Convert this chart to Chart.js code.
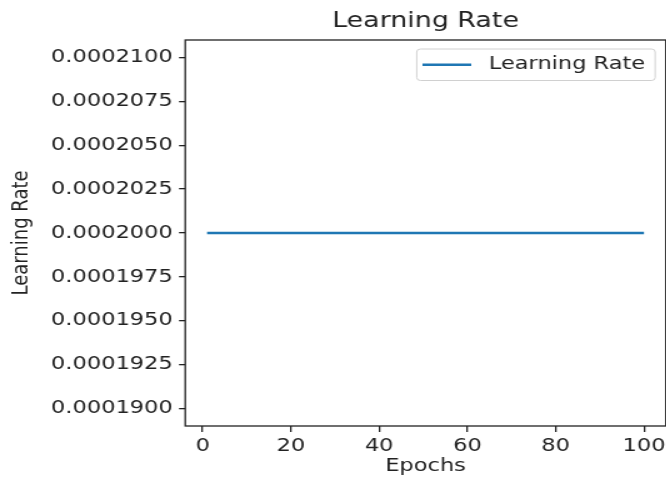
<!DOCTYPE html>
<html>
<head>
<meta charset="utf-8">
<script src="https://cdn.jsdelivr.net/npm/chart.js@4.4.1/dist/chart.umd.min.js"></script>
<style>
  html, body { margin: 0; padding: 0; background: #fff; overflow: hidden; width: 666px; height: 482px; }
  #wrap { width: 536px; height: 482px; transform: scaleX(1.25); transform-origin: 0 0; }
  canvas { display: block; }
</style>
</head>
<body>
<div id="wrap"><canvas id="c" width="536" height="482"></canvas></div>
<script>
const chartTitle = "Learning Rate";
const seriesLabel = "Learning Rate";
const xAxisLabel = "Epochs";
const yAxisLabel = "Learning Rate";
const epochs = [1,2,3,4,5,6,7,8,9,10,11,12,13,14,15,16,17,18,19,20,
  21,22,23,24,25,26,27,28,29,30,31,32,33,34,35,36,37,38,39,40,
  41,42,43,44,45,46,47,48,49,50,51,52,53,54,55,56,57,58,59,60,
  61,62,63,64,65,66,67,68,69,70,71,72,73,74,75,76,77,78,79,80,
  81,82,83,84,85,86,87,88,89,90,91,92,93,94,95,96,97,98,99,100];
const learningRate = [0.0002,0.0002,0.0002,0.0002,0.0002,0.0002,0.0002,0.0002,0.0002,0.0002,
  0.0002,0.0002,0.0002,0.0002,0.0002,0.0002,0.0002,0.0002,0.0002,0.0002,
  0.0002,0.0002,0.0002,0.0002,0.0002,0.0002,0.0002,0.0002,0.0002,0.0002,
  0.0002,0.0002,0.0002,0.0002,0.0002,0.0002,0.0002,0.0002,0.0002,0.0002,
  0.0002,0.0002,0.0002,0.0002,0.0002,0.0002,0.0002,0.0002,0.0002,0.0002,
  0.0002,0.0002,0.0002,0.0002,0.0002,0.0002,0.0002,0.0002,0.0002,0.0002,
  0.0002,0.0002,0.0002,0.0002,0.0002,0.0002,0.0002,0.0002,0.0002,0.0002,
  0.0002,0.0002,0.0002,0.0002,0.0002,0.0002,0.0002,0.0002,0.0002,0.0002,
  0.0002,0.0002,0.0002,0.0002,0.0002,0.0002,0.0002,0.0002,0.0002,0.0002,
  0.0002,0.0002,0.0002,0.0002,0.0002,0.0002,0.0002,0.0002,0.0002,0.0002];
const xTicks = [0, 20, 40, 60, 80, 100];
const yTicks = [0.00019, 0.0001925, 0.000195, 0.0001975, 0.0002, 0.0002025, 0.000205, 0.0002075, 0.00021];

const FONT = "'DejaVu Sans', sans-serif";
const INK = '#222';

const frame = {
  id: 'frame',
  afterDatasetsDraw(chart) {
    const {ctx, chartArea: a} = chart;
    ctx.save();
    ctx.strokeStyle = INK;
    ctx.lineWidth = 1.3;
    ctx.strokeRect(a.left, a.top, a.right - a.left, a.bottom - a.top);
    ctx.restore();
  }
};

const innerLegend = {
  id: 'innerLegend',
  afterDraw(chart) {
    const {ctx, chartArea: a} = chart;
    const ds = chart.data.datasets[0];
    ctx.save();
    ctx.font = "18px " + FONT;
    const tw = ctx.measureText(ds.label).width;
    const right = a.right - 8.5;
    const top = a.top + 9;
    const h = 31.5;
    const padL = 4.6, lineLen = 39, gap = 14, padR = 8;
    const w = padL + lineLen + gap + tw + padR;
    const left = right - w;
    ctx.fillStyle = 'rgba(255,255,255,0.85)';
    ctx.strokeStyle = '#d0d0d0';
    ctx.lineWidth = 1;
    ctx.beginPath();
    ctx.roundRect(left, top, w, h, 3);
    ctx.fill();
    ctx.stroke();
    const cy = top + h / 2;
    ctx.strokeStyle = ds.borderColor;
    ctx.lineWidth = ds.borderWidth;
    ctx.beginPath();
    ctx.moveTo(left + padL, cy);
    ctx.lineTo(left + padL + lineLen, cy);
    ctx.stroke();
    ctx.fillStyle = INK;
    ctx.textBaseline = 'middle';
    ctx.textAlign = 'left';
    ctx.fillText(ds.label, left + padL + lineLen + gap, cy);
    ctx.restore();
  }
};

new Chart(document.getElementById('c'), {
  type: 'line',
  data: {
    datasets: [{
      label: seriesLabel,
      data: epochs.map((e, i) => ({x: e, y: learningRate[i]})),
      borderColor: '#1f77b4',
      backgroundColor: '#1f77b4',
      borderWidth: 2.5,
      pointRadius: 0,
      tension: 0,
      fill: false
    }]
  },
  options: {
    responsive: false,
    animation: false,
    events: [],
    layout: { padding: { left: 0, right: 0.4, top: 0, bottom: 0 } },
    plugins: {
      legend: { display: false },
      tooltip: { enabled: false },
      title: {
        display: true,
        text: chartTitle,
        fullSize: false,
        color: INK,
        font: { family: FONT, size: 21.5, weight: 'normal', lineHeight: 1.2 },
        padding: { top: 8.5, bottom: 5.7 }
      }
    },
    scales: {
      x: {
        type: 'linear',
        min: -3.95,
        max: 104.95,
        afterBuildTicks: (axis) => { axis.ticks = xTicks.map(v => ({value: v})); },
        afterFit: (axis) => { axis.height = 56; },
        grid: { display: true, drawOnChartArea: false, drawTicks: true, tickLength: 6, color: INK, lineWidth: 1.3 },
        border: { display: false },
        ticks: {
          color: INK,
          padding: 3.5,
          maxRotation: 0,
          autoSkip: false,
          font: { family: FONT, size: 18 },
          callback: (v) => String(Math.round(v))
        },
        title: {
          display: true,
          text: xAxisLabel,
          color: INK,
          font: { family: FONT, size: 18, lineHeight: 1.2 },
          padding: { top: 0, bottom: 4.8 }
        }
      },
      y: {
        type: 'linear',
        min: 0.000189,
        max: 0.000211,
        afterBuildTicks: (axis) => { axis.ticks = yTicks.map(v => ({value: v})); },
        afterFit: (axis) => { axis.width = 148.2; },
        grid: { display: true, drawOnChartArea: false, drawTicks: true, tickLength: 5, color: INK, lineWidth: 1.3 },
        border: { display: false },
        ticks: {
          color: INK,
          padding: 5,
          autoSkip: false,
          font: { family: FONT, size: 18 },
          callback: (v) => Number(v).toFixed(7)
        },
        title: {
          display: true,
          text: yAxisLabel,
          color: INK,
          font: { family: FONT, size: 18, lineHeight: 1.2 },
          padding: { top: 7, bottom: 0 }
        }
      }
    }
  },
  plugins: [frame, innerLegend]
});
</script>
</body>
</html>
